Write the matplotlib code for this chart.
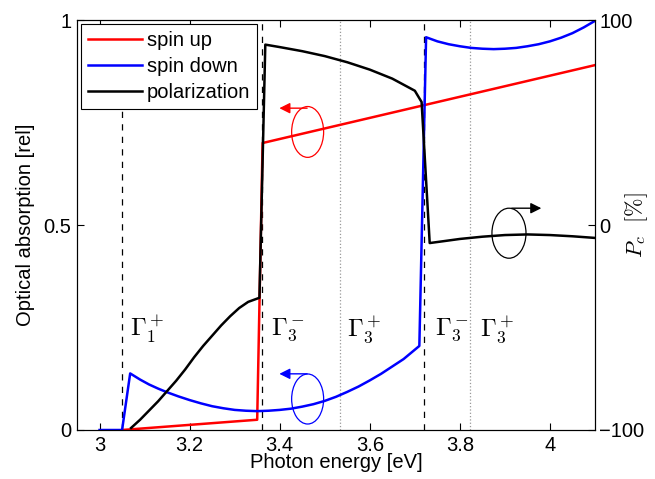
import numpy as np
import matplotlib
matplotlib.use('Agg')
import matplotlib.pyplot as plt
from matplotlib.patches import Ellipse

plt.rcParams['font.family'] = ['Liberation Sans', 'DejaVu Sans']
plt.rcParams['mathtext.fontset'] = 'cm'

# spin up (left axis, rel)
up_x = [3.05, 3.35, 3.362, 4.10]
up_y = [0.0, 0.025, 0.70, 0.89]

# spin down (left axis, rel)
down_x = [3.00, 3.05, 3.068, 3.09, 3.11, 3.13, 3.15, 3.175, 3.20, 3.225, 3.25, 3.275, 3.30,
          3.325, 3.35, 3.375, 3.40, 3.425, 3.45, 3.475, 3.50, 3.525, 3.55, 3.575, 3.60,
          3.625, 3.65, 3.675, 3.71, 3.725, 3.75, 3.775, 3.80, 3.825, 3.85, 3.875, 3.90,
          3.925, 3.95, 3.975, 4.00, 4.025, 4.05, 4.075, 4.10]
down_y = [0.0, 0.0, 0.138, 0.123, 0.111, 0.101, 0.092, 0.082, 0.073, 0.065, 0.058, 0.053, 0.049,
          0.047, 0.046, 0.047, 0.049, 0.052, 0.057, 0.063, 0.071, 0.081, 0.093, 0.106, 0.121,
          0.137, 0.155, 0.173, 0.205, 0.958, 0.948, 0.941, 0.936, 0.932, 0.930, 0.929, 0.930,
          0.932, 0.936, 0.941, 0.948, 0.957, 0.968, 0.982, 0.998]

# polarization (right axis, %)
pol_x = [3.07, 3.09, 3.11, 3.13, 3.15, 3.17, 3.19, 3.21, 3.23, 3.25, 3.27, 3.29, 3.31, 3.33,
         3.355, 3.368, 3.40, 3.45, 3.50, 3.55, 3.60, 3.65, 3.70, 3.715,
         3.733, 3.76, 3.80, 3.85, 3.90, 3.95, 4.00, 4.05, 4.10]
pol_y = [-99, -95, -90.5, -86, -81, -76, -70.5, -64.5, -59, -54, -49, -44.5, -40.5, -37.5,
         -35.5, 88, 86.8, 84.8, 82.4, 79.4, 75.8, 71.4, 65.5, 60,
         -8.8, -8.0, -6.8, -5.7, -4.9, -4.6, -4.9, -5.5, -6.3]

# symmetry labels
sym_x = [3.067, 3.38, 3.55, 3.745, 3.845]
sym_lab = [r'$\Gamma_1^+$', r'$\Gamma_3^-$', r'$\Gamma_3^+$', r'$\Gamma_3^-$', r'$\Gamma_3^+$']
dashed_x = [3.05, 3.36, 3.72]
dotted_x = [3.533, 3.822]

fig = plt.figure(figsize=(6.55, 4.79), dpi=100)
ax = fig.add_axes([0.1176, 0.1023, 0.7908, 0.8559])
ax2 = ax.twinx()

for xv in dashed_x:
    ax.axvline(xv, color='k', ls=(0, (5, 5)), lw=0.9)
for xv in dotted_x:
    ax.axvline(xv, color='0.6', ls=':', lw=0.9)

l1, = ax.plot(up_x, up_y, color='r', lw=1.8, label='spin up')
l2, = ax.plot(down_x, down_y, color='b', lw=1.8, label='spin down')
l3, = ax2.plot(pol_x, pol_y, color='k', lw=1.8, label='polarization')

for xv, lab in zip(sym_x, sym_lab):
    ax.text(xv, 0.245, lab, fontsize=18, va='center', ha='left')

# circular arrows
ax.add_patch(Ellipse((3.462, 0.727), 0.071, 0.124, fill=False, ec='r', lw=0.9))
ax.annotate('', xy=(3.393, 0.785), xytext=(3.467, 0.785),
            arrowprops=dict(arrowstyle='-|>', color='r', lw=1.0, mutation_scale=16))
ax.add_patch(Ellipse((3.462, 0.0756), 0.071, 0.122, fill=False, ec='b', lw=0.9))
ax.annotate('', xy=(3.393, 0.137), xytext=(3.467, 0.137),
            arrowprops=dict(arrowstyle='-|>', color='b', lw=1.0, mutation_scale=16))
ax.add_patch(Ellipse((3.909, 0.48), 0.0756, 0.122, fill=False, ec='k', lw=0.9))
ax.annotate('', xy=(3.987, 0.541), xytext=(3.909, 0.541),
            arrowprops=dict(arrowstyle='-|>', color='k', lw=1.0, mutation_scale=16))

ax.set_xlim(2.95, 4.1)
ax.set_ylim(0, 1)
ax2.set_ylim(-100, 100)
ax.set_xticks([3, 3.2, 3.4, 3.6, 3.8, 4])
ax.set_xticklabels(['3', '3.2', '3.4', '3.6', '3.8', '4'])
ax.set_yticks([0, 0.5, 1])
ax.set_yticklabels(['0', '0.5', '1'])
ax2.set_yticks([-100, 0, 100])
ax2.set_yticklabels(['\u2212100', '0', '100'])
ax.tick_params(direction='in', labelsize=14.5, top=True, length=5, pad=4)
ax2.tick_params(direction='in', labelsize=14.5, length=5, pad=3)

ax.set_xlabel('Photon energy [eV]', fontsize=14.5, labelpad=-1)
ax.set_ylabel('Optical absorption [rel]', fontsize=14.5, labelpad=6)
ax2.set_ylabel(r'$P_c\ \ [\%]$', fontsize=16)
ax2.yaxis.set_label_coords(1.055, 0.5)

leg = ax2.legend([l1, l2, l3], ['spin up', 'spin down', 'polarization'],
                 loc='upper left', fontsize=14.5, fancybox=False, edgecolor='k',
                 framealpha=1, handlelength=2.7, handletextpad=0.2,
                 labelspacing=0.35, borderaxespad=0.2, borderpad=0.35)
leg.get_frame().set_linewidth(0.8)

fig.savefig('out.png', dpi=100)
